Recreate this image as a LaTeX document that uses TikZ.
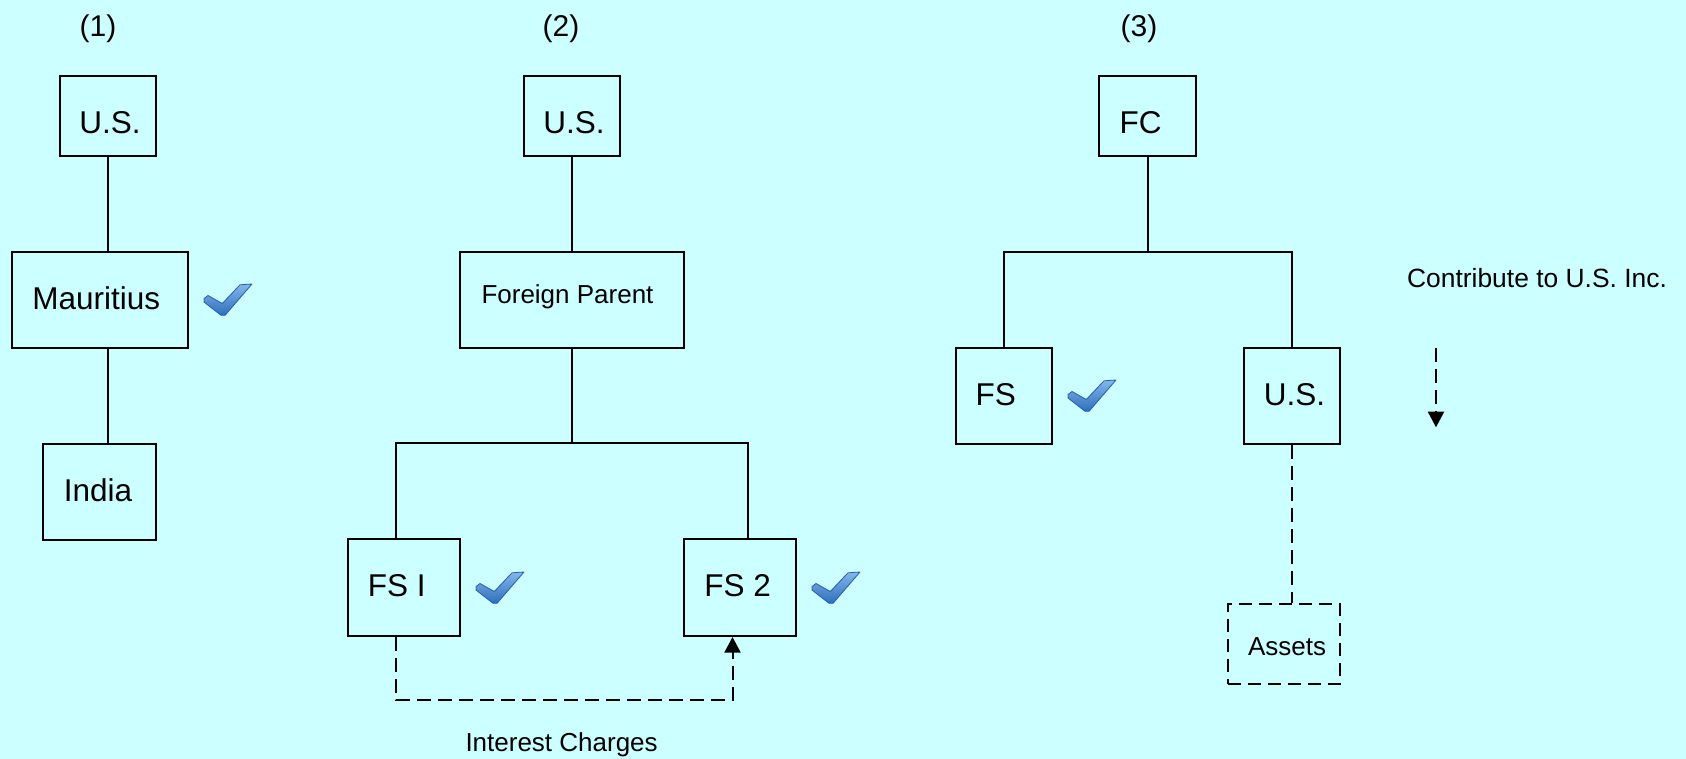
\documentclass[tikz,border=0pt]{standalone}
\usepackage{fontspec}
\setmainfont{Liberation Sans}
\usetikzlibrary{arrows.meta}

\definecolor{bgcyan}{RGB}{204,255,255}
\definecolor{ticklight}{RGB}{132,184,234}
\definecolor{tickdark}{RGB}{46,110,190}
\definecolor{tickedge}{RGB}{38,94,170}

\newcommand\bxfont{\fontsize{15.75}{19}\selectfont}
\newcommand\smfont{\fontsize{13}{16}\selectfont}
\newcommand\notefont{\fontsize{13.2}{16}\selectfont}
\newcommand\headfont{\fontsize{15}{18}\selectfont}

\tikzset{
  entity/.style={draw, line width=1pt, inner sep=0pt},
  asset/.style={entity, dash pattern=on 6.5pt off 3.5pt},
  txt/.style={anchor=base, inner sep=0pt, font=\bxfont},
  smalltxt/.style={anchor=base, inner sep=0pt, font=\smfont},
  headtxt/.style={anchor=base, inner sep=0pt, font=\headfont},
  link/.style={line width=1pt},
  flow/.style={line width=1pt, dash pattern=on 7pt off 3.5pt},
  tip/.style={-{Triangle[width=8pt,length=7.8pt]}},
  okmark/.pic={
    \shadedraw[top color=ticklight, bottom color=tickdark, draw=tickedge,
               line width=0.4pt, line join=round]
      (4,11.5) -- (18.3,19.5) -- (36,0.8) -- (48,0) -- (21,31.3)
      -- (17,31.3) -- (0,18) -- (0,14.5) -- cycle;
  }
}

\begin{document}
\begin{tikzpicture}[x=0.5pt, y=-0.5pt]
  \fill[bgcyan] (0,0) rectangle (1686,759);
  \useasboundingbox (0,0) rectangle (1686,759);

  % column headings
  \node[headtxt] (h1) at (98,36.5) {(1)};
  \node[headtxt] (h2) at (561,36.5) {(2)};
  \node[headtxt] (h3) at (1139,36.5) {(3)};

  % (1) U.S. -> Mauritius -> India
  \node[entity, minimum width=48pt, minimum height=40pt] (us1) at (108,116) {};
  \node[txt] (us1-t) at (110,133.3) {U.S.};
  \node[entity, minimum width=88.3pt, minimum height=48.2pt] (mau) at (100,300) {};
  \node[txt] (mau-t) at (96.2,309) {Mauritius};
  \node[entity, minimum width=56.5pt, minimum height=48.2pt] (ind) at (99.8,491.8) {};
  \node[txt] (ind-t) at (98,501) {India};
  \draw[link] (us1.south) -- (mau.north -| us1.south);
  \draw[link] (mau.south -| us1.south) -- (ind.north -| us1.south);
  \pic at (204,284) {okmark};

  % (2) U.S. -> Foreign Parent -> FS I, FS 2
  \node[entity, minimum width=48pt, minimum height=40pt] (us2) at (572,116) {};
  \node[txt] (us2-t) at (574,133.3) {U.S.};
  \node[entity, minimum width=112pt, minimum height=48pt] (fp) at (572,300) {};
  \node[smalltxt] (fp-t) at (567.5,304) {Foreign Parent};
  \node[entity, minimum width=56pt, minimum height=48.3pt] (fs1) at (404,587.7) {};
  \node[txt] (fs1-t) at (396.8,596.7) {FS I};
  \node[entity, minimum width=56.2pt, minimum height=48.3pt] (fs2) at (740.2,587.7) {};
  \node[txt] (fs2-t) at (737.6,596.7) {FS 2};
  \coordinate (j1) at (396,443.3);
  \coordinate (j2) at (748,443.3);
  \draw[link] (us2.south) -- (fp.north);
  \draw[link] (fp.south) -- (fp.south |- j1);
  \draw[link] (fs1.north -| j1) -- (j1) -- (j2) -- (fs2.north -| j2);
  \coordinate (ic) at (732.5,700);
  \draw[flow, tip] (fs1.south -| j1) |- (ic) -- (fs2.south -| ic);
  \node[smalltxt] (int-t) at (561.6,751.7) {Interest Charges};
  \pic at (476,572) {okmark};
  \pic at (812,572) {okmark};

  % (3) FC -> FS, U.S.; assets contributed to U.S.
  \node[entity, minimum width=48.5pt, minimum height=40.2pt] (fc) at (1147.8,115.8) {};
  \node[txt] (fc-t) at (1140.7,133.3) {FC};
  \node[entity, minimum width=48.3pt, minimum height=48.2pt] (fs) at (1004,395.8) {};
  \node[txt] (fs-t) at (995.8,405) {FS};
  \node[entity, minimum width=48.3pt, minimum height=48.2pt] (us3) at (1292,395.8) {};
  \node[txt] (us3-t) at (1294.5,405) {U.S.};
  \node[asset, minimum width=56.2pt, minimum height=40pt] (assets) at (1283.8,644) {};
  \node[smalltxt] (assets-t) at (1287,655.7) {Assets};
  \coordinate (k1) at (1004,251.7);
  \coordinate (k2) at (1292,251.7);
  \draw[link] (fc.south) -- (fc.south |- k1);
  \draw[link] (fs.north) -- (k1) -- (k2) -- (us3.north);
  \draw[flow] (us3.south) -- (us3.south |- assets.north);
  \pic at (1068,380) {okmark};

  \node[anchor=base, inner sep=0pt, font=\notefont] (contrib) at (1537,287.7) {Contribute to U.S. Inc.};
  \coordinate (ca) at (1436,347.7);
  \coordinate (cb) at (1436,427.3);
  \draw[flow, tip] (ca) -- (cb);
\end{tikzpicture}
\end{document}
